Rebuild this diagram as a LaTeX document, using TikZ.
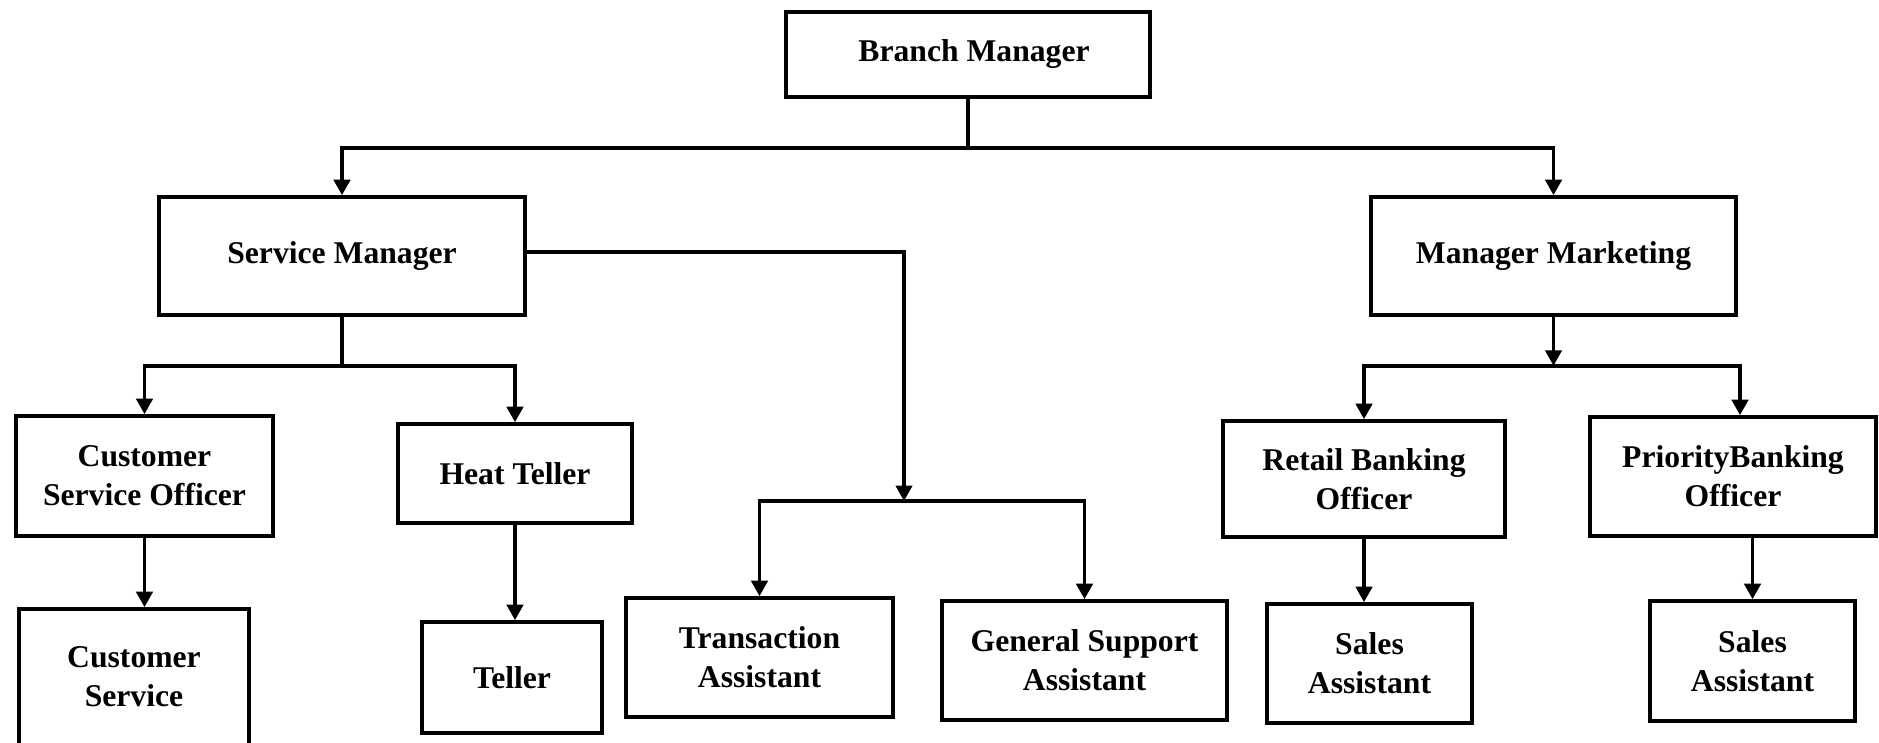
\documentclass[tikz,border=0pt]{standalone}
\usepackage{fontspec}
\setmainfont{Liberation Serif}
\usetikzlibrary{arrows.meta}

\begin{document}
\begin{tikzpicture}[x=0.01cm, y=-0.01cm,
        post/.style={draw, line width=1pt, align=center, inner sep=0pt,
            font=\bfseries\fontsize{9}{11}\selectfont},
        link/.style={line width=1.05pt},
        arr/.style={line width=1.05pt, -{Triangle[length=4.4pt, width=4.6pt]}}]
        \useasboundingbox (0,0) rectangle (1879,742);

        % top level
        \node[post, minimum width=3.64cm, minimum height=0.85cm] (bm) at (968,54.5) {\hspace{0.12cm}Branch Manager};
        \node[post, minimum width=3.66cm, minimum height=1.18cm] (sm) at (342,256) {Service Manager};
        \node[post, minimum width=3.65cm, minimum height=1.18cm] (mm) at (1553.5,256) {Manager Marketing};

        % service side
        \node[post, minimum width=2.57cm, minimum height=1.2cm] (cso) at (144.5,476) {Customer\\Service Officer};
        \node[post, minimum width=2.34cm, minimum height=0.99cm] (ht) at (515,473.5) {Heat Teller};
        \node[post, minimum width=2.3cm, minimum height=1.36cm] (cs) at (134,677) {Customer\\Service};
        \node[post, minimum width=1.8cm, minimum height=1.11cm] (teller) at (512,677.5) {Teller};
        \node[post, minimum width=2.67cm, minimum height=1.19cm] (ta) at (759.5,657.5) {Transaction\\Assistant};
        \node[post, minimum width=2.85cm, minimum height=1.19cm] (gsa) at (1084.5,660.5) {General Support\\Assistant};

        % marketing side
        \node[post, minimum width=2.82cm, minimum height=1.16cm] (rbo) at (1364,479) {Retail Banking\\Officer};
        \node[post, minimum width=2.86cm, minimum height=1.19cm] (pbo) at (1733,476.5) {PriorityBanking\\Officer};
        \node[post, minimum width=2.05cm, minimum height=1.19cm] (sa1) at (1369.5,663.5) {Sales\\Assistant};
        \node[post, minimum width=2.05cm, minimum height=1.2cm] (sa2) at (1752.5,661) {Sales\\Assistant};

        % connectors
        \draw[link] (bm.south) -- ++(0,49) coordinate (bmj);
        \draw[arr] (bmj) -| (sm.north);
        \draw[arr] (bmj) -| (mm.north);

        \draw[link] (sm.south) -- ++(0,49) coordinate (smj);
        \draw[arr] (smj) -| (cso.north);
        \draw[arr] (smj) -| (ht.north);

        \coordinate (tj) at (904,501);
        \draw[arr] ([yshift=0.04cm]sm.east) -| (tj);
        \draw[arr] (tj) -| (ta.north);
        \draw[arr] (tj) -| (gsa.north);

        \draw[arr] (mm.south) -- ++(0,49) coordinate (mmj);
        \draw[arr] (mmj) -| (rbo.north);
        \draw[arr] (mmj) -| ([xshift=0.07cm]pbo.north);

        \draw[arr] (cso.south) -- (cso.south |- cs.north);
        \draw[arr] (ht.south) -- (ht.south |- teller.north);
        \draw[arr] (rbo.south) -- (rbo.south |- sa1.north);
        \draw[arr] (sa2.north |- pbo.south) -- (sa2.north);
    \end{tikzpicture}
\end{document}
